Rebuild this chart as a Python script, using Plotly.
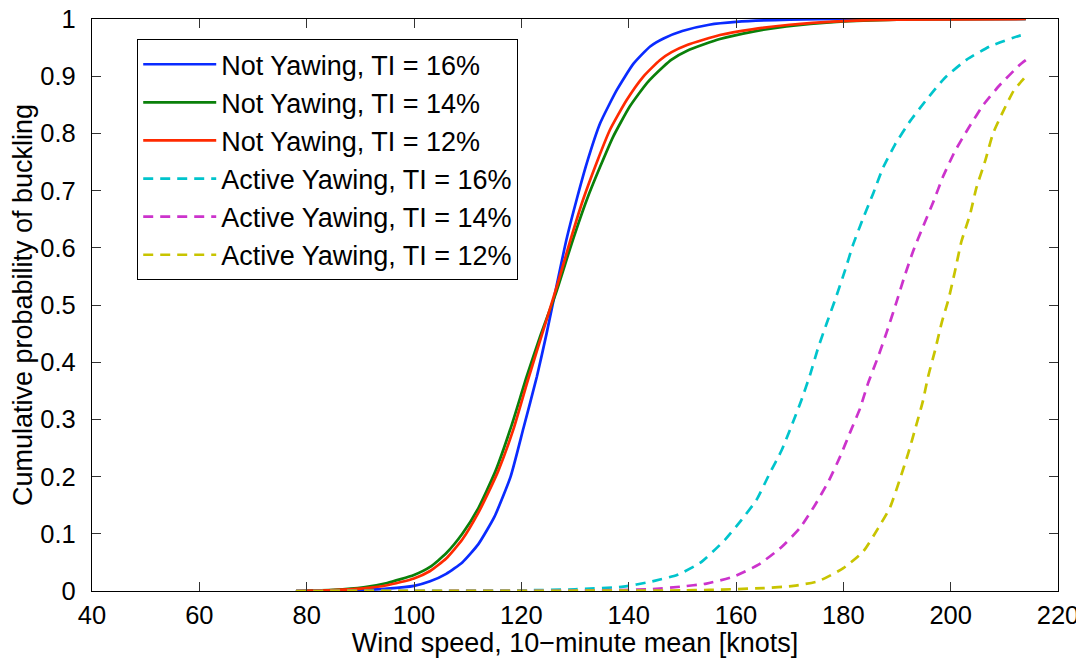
import plotly.graph_objects as go

# ---- data ----
blue_x = [78, 85, 90, 95, 100, 103, 106, 109, 112, 115, 118, 120.4, 122.9, 124.7, 126.6, 128.4, 130.3, 132.2, 134.7, 137.8, 140.9, 144, 146.5, 150, 155, 160, 170, 180, 214]
blue_y = [0, 0.0005, 0.0015, 0.004, 0.009, 0.017, 0.03, 0.05, 0.082, 0.13, 0.2, 0.285, 0.375, 0.45, 0.535, 0.614, 0.684, 0.748, 0.818, 0.876, 0.922, 0.952, 0.966, 0.979, 0.99, 0.995, 0.999, 1.0, 1.0]

green_x = [78, 85, 90.6, 95, 100, 103, 106, 109, 112, 115.2, 118.2, 121, 123.5, 126.6, 129.4, 132.2, 134.7, 137.1, 140.2, 143.4, 146.5, 148, 151, 157, 163.2, 169.4, 178.7, 190, 214]
green_y = [0, 0.002, 0.0065, 0.014, 0.028, 0.042, 0.066, 0.10, 0.145, 0.21, 0.29, 0.375, 0.445, 0.525, 0.608, 0.684, 0.742, 0.794, 0.847, 0.888, 0.917, 0.929, 0.945, 0.965, 0.978, 0.987, 0.995, 0.999, 1.0]

red_x = [78, 85, 90, 95, 100, 103, 106, 109, 112, 114, 115.7, 118.5, 121.2, 124.1, 126.7, 129.1, 131.5, 134, 136.5, 139.6, 142.7, 145.8, 148, 151, 157, 163, 170, 179, 190, 214]
red_y = [0, 0.0015, 0.004, 0.01, 0.022, 0.035, 0.057, 0.09, 0.137, 0.175, 0.21, 0.282, 0.368, 0.456, 0.535, 0.612, 0.684, 0.748, 0.806, 0.858, 0.899, 0.928, 0.942, 0.955, 0.972, 0.982, 0.99, 0.996, 0.999, 1.0]

cyan_x = [78, 100, 120, 130, 139, 144, 149, 153.3, 157.9, 161, 163.8, 166.3, 168.5, 170.4, 172.2, 173.8, 175.3, 176.9, 178.5, 180.3, 181.8, 183.7, 185.6, 187.4, 189.6, 192.4, 195.5, 198.9, 203, 207.3, 212.9, 214]
cyan_y = [0, 0.0002, 0.001, 0.003, 0.0075, 0.016, 0.028, 0.049, 0.089, 0.124, 0.159, 0.206, 0.246, 0.29, 0.334, 0.378, 0.425, 0.468, 0.51, 0.56, 0.605, 0.652, 0.696, 0.74, 0.78, 0.821, 0.859, 0.897, 0.929, 0.952, 0.971, 0.973]

magenta_x = [78, 130, 144, 149.6, 154.5, 159.5, 164.2, 168.5, 171.9, 174.7, 177.2, 179.4, 181.2, 183.1, 184.6, 186.5, 188.1, 189.9, 191.5, 193, 194.9, 196.8, 198.6, 200.8, 203.3, 206.1, 209.2, 212.9, 214]
magenta_y = [0, 0.0005, 0.003, 0.0075, 0.013, 0.025, 0.046, 0.077, 0.11, 0.15, 0.191, 0.235, 0.276, 0.319, 0.363, 0.41, 0.453, 0.505, 0.553, 0.594, 0.638, 0.681, 0.725, 0.769, 0.809, 0.85, 0.885, 0.92, 0.928]

yellow_x = [78, 150, 155.1, 165.1, 170.7, 175.3, 180, 183.7, 186.5, 188.7, 190.6, 192.1, 193.5, 194.8, 195.8, 197.1, 198.3, 199.6, 200.8, 202, 203.6, 204.8, 206.4, 207.9, 209.8, 211.7, 212.9, 214]
yellow_y = [0, 0.001, 0.002, 0.005, 0.009, 0.017, 0.04, 0.069, 0.11, 0.146, 0.197, 0.241, 0.287, 0.331, 0.375, 0.421, 0.468, 0.51, 0.559, 0.611, 0.658, 0.705, 0.751, 0.8, 0.839, 0.874, 0.888, 0.9]

names = ["Not Yawing, TI = 16%", "Not Yawing, TI = 14%", "Not Yawing, TI = 12%",
         "Active Yawing, TI = 16%", "Active Yawing, TI = 14%", "Active Yawing, TI = 12%"]
xs = [blue_x, green_x, red_x, cyan_x, magenta_x, yellow_x]
ys = [blue_y, green_y, red_y, cyan_y, magenta_y, yellow_y]
colors = ["#0a2bff", "#0a800a", "#ff2a00", "#00c4cc", "#cc33cc", "#c8c400"]
dashes = ["solid", "solid", "solid", "10px,7px", "10px,7px", "10px,7px"]

x_ticks = [40, 60, 80, 100, 120, 140, 160, 180, 200, 220]
y_ticks = [0, 0.1, 0.2, 0.3, 0.4, 0.5, 0.6, 0.7, 0.8, 0.9, 1]
y_ticklabels = ["0", "0.1", "0.2", "0.3", "0.4", "0.5", "0.6", "0.7", "0.8", "0.9", "1"]

FONT = "Liberation Sans, Arial, Helvetica, sans-serif"
FS_TICK = 25.5
FS_TEXT = 27

fig = go.Figure()
for i in range(6):
    fig.add_trace(go.Scatter(
        x=xs[i], y=ys[i], mode="lines", name=names[i],
        legendgroup=f"g{i}",
        line=dict(color=colors[i], width=2.7, dash=dashes[i], shape="spline", smoothing=0.5),
    ))

axis_common = dict(
    showline=True, linecolor="black", linewidth=1.3, mirror="ticks",
    ticks="inside", ticklen=9, tickwidth=1.2, tickcolor="#333333",
    showgrid=False, zeroline=False, ticklabeloverflow="allow",
    tickfont=dict(family=FONT, size=FS_TICK, color="black"),
)

# page body has an 8px default margin, so the figure is 8px smaller and the margins compensate
fig.update_layout(
    width=1076, height=650,
    margin=dict(l=84, r=26, t=11, b=67, autoexpand=False),
    paper_bgcolor="white", plot_bgcolor="white",
    font=dict(family=FONT, size=FS_TEXT, color="black"),
    xaxis=dict(range=[40, 220], tickvals=x_ticks, ticklabelstandoff=1,
               title=dict(text="Wind speed, 10\u2212minute mean [knots]",
                          font=dict(family=FONT, size=FS_TEXT), standoff=10),
               **axis_common),
    yaxis=dict(range=[0, 1], tickvals=y_ticks, ticktext=y_ticklabels, ticklabelstandoff=10,
               title=dict(text="Cumulative probability of buckling",
                          font=dict(family=FONT, size=FS_TEXT), standoff=4),
               **axis_common),
    legend=dict(x=0.0466, y=0.965, xanchor="left", yanchor="top",
                bgcolor="white", bordercolor="black", borderwidth=1.2,
                font=dict(family=FONT, size=FS_TEXT, color="black"),
                traceorder="grouped", tracegroupgap=0, itemwidth=73),
    showlegend=True,
)

fig.write_html("out.html")
